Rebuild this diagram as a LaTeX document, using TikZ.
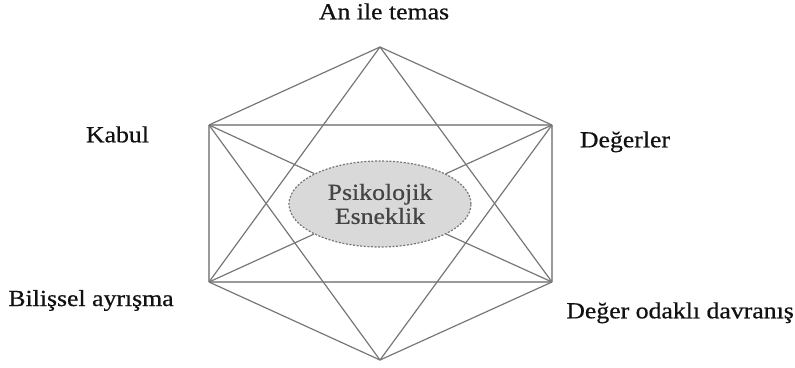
\documentclass[tikz,border=0pt]{standalone}
\usepackage{fontspec}
\setmainfont{Liberation Serif}
\newfontfamily\lblfont[FakeBold=0.6]{Liberation Serif}
\usepackage{graphicx}
\usetikzlibrary{shapes.geometric}
\definecolor{linegray}{HTML}{777777}
\definecolor{rectgray}{HTML}{9A9A9A}
\definecolor{fillgray}{HTML}{D9D9D9}
\definecolor{txtgray}{HTML}{454545}
\definecolor{lbltext}{HTML}{111111}
\newcommand\widetxt[1]{\scalebox{1.12}[1]{#1}}
\begin{document}
\begin{tikzpicture}[x=1pt,y=-1pt,
  edge/.style={draw=linegray,line width=1.2pt},
  rect/.style={draw=rectgray,line width=1.9pt},
  lbl/.style={font=\lblfont\fontsize{23}{26}\selectfont,text=lbltext,inner sep=0pt},
  core/.style={ellipse,draw=linegray,fill=fillgray,line width=1.2pt,
    dash pattern=on 2pt off 1.6pt,minimum width=182pt,minimum height=86pt,
    inner sep=0pt,align=center,text=txtgray,font=\lblfont\fontsize{23}{24}\selectfont}]
\useasboundingbox (0,0) rectangle (795,367);
\coordinate (T) at (380,47);
\coordinate (UL) at (209,125);
\coordinate (UR) at (552,125);
\coordinate (LL) at (209,282);
\coordinate (LR) at (552,282);
\coordinate (B) at (380,360);
\node[core] (E) at (380,204) {\widetxt{Psikolojik}\\\widetxt{Esneklik}};
% rectangle
\draw[rect] (UL) -- (UR);
\draw[rect] (LL) -- (LR);
\draw[rect] (UL) -- (LL);
\draw[rect] (UR) -- (LR);
% hexagon edges
\draw[edge] (T) -- (UL);
\draw[edge] (T) -- (UR);
\draw[edge] (B) -- (LL);
\draw[edge] (B) -- (LR);
% triangles
\draw[edge] (T) -- (LL);
\draw[edge] (T) -- (LR);
\draw[edge] (B) -- (UL);
\draw[edge] (B) -- (UR);
% diagonals to the centre
\draw[edge] (UL) -- (E);
\draw[edge] (UR) -- (E);
\draw[edge] (LL) -- (E);
\draw[edge] (LR) -- (E);
% labels
\node[lbl,anchor=base] (lT) at (384,19.3) {\widetxt{An ile temas}};
\node[lbl,anchor=base] (lUL) at (117.5,142.3) {\widetxt{Kabul}};
\node[lbl,anchor=base] (lUR) at (625,147.3) {\widetxt{Değerler}};
\node[lbl,anchor=base] (lLL) at (91,306) {\widetxt{Bilişsel ayrışma}};
\node[lbl,anchor=base east] (lLR) at (794,318.3) {\widetxt{Değer odaklı davranış}};
\end{tikzpicture}
\end{document}
